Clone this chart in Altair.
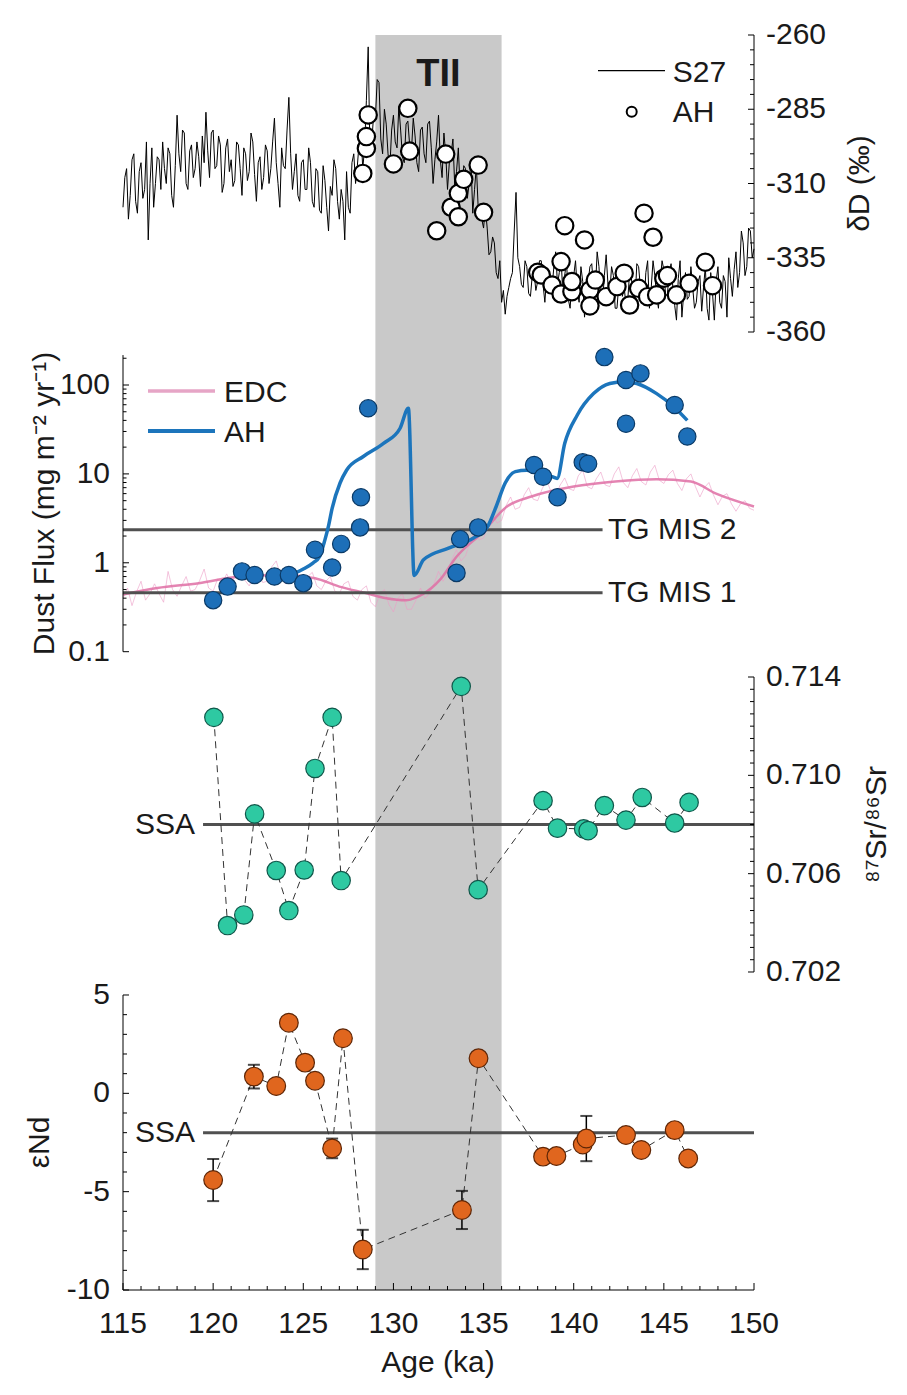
import altair as alt
import pandas as pd

FONT = "Liberation Sans"
FS = 30
W = 631
H1, H2, H3, H4 = 308, 321, 319, 307

# ---------------- data ----------------
# S27 deuterium record, 0.1 ka sampling (115.0 ... 150.0)
s27_dd = [-318, -308, -305, -322, -314, -302, -300, -316, -320, -306,
          -303, -315, -312, -296, -329, -310, -298, -318, -310, -301,
          -302, -312, -296, -305, -310, -298, -300, -314, -318, -304,
          -287, -300, -306, -292, -293, -310, -312, -299, -297, -308,
          -305, -296, -301, -311, -294, -303, -286, -299, -308, -293,
          -292, -305, -304, -294, -297, -313, -310, -298, -295, -306,
          -302, -311, -309, -296, -297, -305, -314, -298, -300, -309,
          -306, -293, -296, -307, -316, -303, -301, -312, -308, -297,
          -299, -310, -305, -296, -288, -303, -310, -318, -298, -304,
          -305, -292, -281, -300, -312, -306, -300, -314, -316, -303,
          -302, -312, -312, -298, -303, -316, -318, -305, -306, -319,
          -320, -304, -309, -318, -326, -311, -314, -302, -305, -316,
          -322, -312, -316, -329, -306, -318, -320, -303, -300, -310,
          -304, -296, -293, -305, -298, -282, -264, -300, -296, -287,
          -288, -275, -276, -295, -300, -285, -290, -300, -305, -292,
          -287, -296, -298, -284, -292, -301, -303, -290, -289, -297,
          -299, -288, -294, -303, -306, -292, -291, -300, -303, -290,
          -289, -298, -310, -302, -296, -287, -302, -308, -293, -300,
          -312, -303, -300, -295, -311, -306, -298, -312, -316, -304,
          -305, -315, -310, -302, -320, -312, -304, -318, -317, -322,
          -325, -318, -325, -334, -333, -328, -330, -340, -342, -336,
          -350, -346, -354, -348, -345, -342, -340, -326, -313, -335,
          -338, -344, -345, -336, -338, -347, -348, -341, -340, -346,
          -343, -336, -336, -344, -350, -341, -339, -346, -345, -338,
          -333, -344, -340, -335, -348, -341, -336, -349, -352, -343,
          -341, -336, -346, -350, -338, -343, -355, -347, -343, -338,
          -337, -345, -346, -333, -338, -349, -350, -341, -334, -344,
          -347, -338, -341, -352, -352, -344, -339, -348, -345, -351,
          -349, -340, -342, -347, -350, -337, -338, -345, -346, -351,
          -340, -336, -352, -345, -336, -341, -348, -352, -343, -336,
          -339, -348, -347, -340, -337, -345, -351, -356, -342, -336,
          -355, -347, -340, -349, -348, -338, -345, -352, -350, -343,
          -341, -353, -345, -338, -352, -356, -340, -347, -356, -343,
          -338, -350, -352, -341, -343, -355, -335, -342, -348, -339,
          -333, -345, -340, -326, -330, -341, -338, -325, -326, -335,
          -332]
s27_age = [round(115 + 0.1 * i, 1) for i in range(len(s27_dd))]

ah_dd_age = [128.3, 128.5, 128.5, 128.6, 130.0, 130.8, 130.9, 132.4, 132.9, 133.2,
             133.6, 133.6, 133.9, 134.7, 135.0, 138.0, 138.2, 138.8, 139.3, 139.3,
             139.5, 139.9, 139.9, 140.6, 140.9, 140.9, 141.2, 141.8, 142.4, 142.8,
             143.1, 143.6, 143.9, 144.1, 144.4, 144.6, 145.0, 145.2, 145.7, 146.4,
             147.3, 147.7]
ah_dd_val = [-306.6, -298.2, -294.2, -286.9, -303.4, -284.7, -299.1, -325.9, -300.1, -318.0,
             -313.3, -321.2, -308.6, -303.8, -319.7, -339.9, -340.8, -344.2, -347.2, -336.3,
             -324.2, -346.4, -343.0, -329.0, -345.9, -351.2, -342.5, -348.1, -344.7, -340.2,
             -350.9, -345.3, -320.0, -348.1, -328.1, -347.5, -341.9, -341.0, -347.5, -343.6,
             -336.5, -344.4]

# EDC dust flux: raw record (0.25 ka sampling) and smoothed curve
edc_raw_val = [0.40, 0.52, 0.33, 0.47, 0.62, 0.38, 0.45, 0.58,
               0.45, 0.36, 0.80, 0.50, 0.42, 0.55, 0.70, 0.48,
               0.50, 0.63, 0.85, 0.52, 0.48, 0.66, 0.58, 0.75,
               0.60, 0.72, 0.95, 0.64, 0.55, 0.70, 0.82, 0.60,
               0.62, 0.90, 1.05, 0.70, 0.58, 0.76, 0.85, 0.62,
               0.60, 0.70, 0.78, 0.55, 0.50, 0.62, 0.70, 0.48,
               0.45, 0.58, 0.62, 0.42, 0.38, 0.50, 0.55, 0.36,
               0.32, 0.45, 0.50, 0.34, 0.28, 0.40, 0.45, 0.30,
               0.30, 0.38, 0.52, 0.40, 0.45, 0.58, 0.80, 0.62,
               0.75, 1.10, 1.40, 1.05, 1.20, 1.70, 2.30, 1.80,
               1.90, 2.60, 3.50, 2.80, 3.00, 4.40, 5.50, 4.00,
               4.20, 5.80, 7.00, 5.20, 5.00, 6.80, 8.50, 6.20,
               5.80, 7.50, 9.00, 6.80, 6.50, 9.50, 11.0, 7.20,
               6.80, 8.80, 10.5, 7.50, 7.20, 10.0, 12.0, 8.00,
               7.00, 9.50, 11.5, 8.20, 7.50, 10.5, 12.5, 8.50,
               7.80, 9.80, 11.0, 7.80, 6.50, 8.80, 10.0, 7.20,
               5.50, 7.00, 8.00, 5.80, 4.50, 5.60, 6.00, 4.60,
               3.80, 4.60, 5.00, 4.10, 3.90]
edc_raw_age = [115 + 0.25 * i for i in range(len(edc_raw_val))]
edc_s_age = [115.0, 116.9, 119.2, 121.5, 123.8, 125.65, 127.0, 128.4, 129.6, 130.7, 131.6,
             132.6, 133.5, 134.9, 136.3, 137.7, 140.0, 142.3, 144.6, 146.5, 147.9, 150.0]
edc_s_val = [0.44, 0.52, 0.59, 0.70, 0.73, 0.67, 0.54, 0.46, 0.40, 0.38, 0.44,
             0.65, 1.17, 2.16, 4.3, 5.6, 7.2, 8.2, 8.7, 8.2, 6.0, 4.3]

# AH dust flux samples and model curve
ah_flux_age = [120.0, 120.8, 121.6, 122.3, 123.4, 124.2, 125.0, 125.65, 126.6, 127.1,
               128.15, 128.2, 128.6, 133.5, 133.7, 134.7, 137.8, 138.3, 139.1, 140.5,
               140.8, 141.7, 142.9, 142.9, 143.7, 145.6, 146.3]
ah_flux_val = [0.38, 0.54, 0.80, 0.73, 0.70, 0.73, 0.59, 1.40, 0.885, 1.63,
               2.5, 5.47, 54.7, 0.77, 1.85, 2.5, 12.6, 9.3, 5.47, 13.5,
               13.0, 206, 114, 36.6, 135, 59.6, 26.3]
ah_model_age = [124.5, 125.0, 125.55, 125.9, 126.2, 126.4, 126.6, 127.04, 127.4, 128.33,
                129.45, 130.37, 130.83, 131.15, 131.67, 133.06, 134.44, 135.2, 135.7, 136.2,
                136.76, 137.4, 138.15, 138.8, 139.08, 139.5, 140.2, 141.1, 142.0, 142.8,
                143.5, 144.6, 145.55, 146.3]
ah_model_val = [0.76, 0.85, 1.0, 1.17, 1.81, 2.6, 4.1, 7.9, 11, 15.7,
                22, 32.6, 54.7, 0.72, 1.08, 1.46, 1.9, 2.5, 4.3, 7.9,
                10.6, 11, 10, 9.3, 8.9, 22, 46, 80, 104, 109,
                104, 80, 57, 40]

tg_labels = ["TG MIS 2", "TG MIS 1"]
tg_values = [2.35, 0.46]

sr_age = [120.04, 120.8, 121.7, 122.3, 123.5, 124.2, 125.05, 125.65, 126.6, 127.1,
          133.76, 134.7, 138.3, 139.1, 140.55, 140.8, 141.7, 142.9, 143.8, 145.6, 146.4]
sr_val = [0.71236, 0.70389, 0.70432, 0.70843, 0.70613, 0.70450, 0.70615, 0.71028, 0.71236, 0.70572,
          0.71362, 0.70535, 0.70897, 0.70785, 0.70782, 0.70775, 0.70877, 0.70818, 0.70910, 0.70806, 0.70890]
sr_ssa = 0.708

nd_age = [120.0, 122.26, 123.5, 124.2, 125.1, 125.65, 126.6, 127.2, 128.3, 133.8,
          134.72, 138.3, 139.04, 140.5, 140.7, 142.9, 143.75, 145.6, 146.35]
nd_val = [-4.41, 0.85, 0.37, 3.59, 1.56, 0.64, -2.80, 2.80, -7.94, -5.93,
          1.78, -3.22, -3.19, -2.60, -2.30, -2.12, -2.88, -1.87, -3.31]
nd_err = [1.07, 0.60, 0, 0, 0, 0, 0.50, 0, 1.00, 0.97,
          0, 0, 0, 0, 1.15, 0, 0, 0, 0]
nd_ssa = -2.0

termination = [129.0, 136.0]

# axis ticks and labels
x_major = [115, 120, 125, 130, 135, 140, 145, 150]
x_labels = ["115", "120", "125", "130", "135", "140", "145", "150"]
x_minor = [v for v in range(115, 151) if v % 5 != 0]
dd_major = [-260, -285, -310, -335, -360]
dd_labels = ["-260", "-285", "-310", "-335", "-360"]
dd_minor = [v for v in range(-360, -259, 5) if v not in dd_major]
flux_major = [0.1, 1, 10, 100]
flux_labels = ["0.1", "1", "10", "100"]
flux_minor = [0.2, 0.3, 0.4, 0.5, 0.6, 0.7, 0.8, 0.9, 2, 3, 4, 5, 6, 7, 8, 9,
              20, 30, 40, 50, 60, 70, 80, 90, 200]
sr_major = [0.702, 0.706, 0.710, 0.714]
sr_labels = ["0.702", "0.706", "0.710", "0.714"]
sr_minor = [round(0.702 + 0.0005 * i, 4) for i in range(25)]
sr_minor = [v for v in sr_minor if v not in sr_major]
nd_major = [-10, -5, 0, 5]
nd_labels = ["-10", "-5", "0", "5"]
nd_minor = [v for v in range(-10, 6) if v % 5 != 0]

# ---------------- helpers ----------------
XS = alt.Scale(domain=[115, 150], nice=False, zero=False)
one = pd.DataFrame({"a": [0]})
INK = "#1a1a1a"


def X(field):
    return alt.X(field, type="quantitative", scale=XS, axis=None)


def band():
    df = pd.DataFrame({"a": [termination[0]], "b": [termination[1]]})
    return alt.Chart(df).mark_rect(color="#c9c9c9").encode(x=X("a"), x2="b:Q")


def yticks(values, ys, side, length):
    df = pd.DataFrame({"v": values})
    if side == "left":
        xe, x2e = alt.value(0), alt.value(length)
    else:
        xe, x2e = alt.value(W - length), alt.value(W)
    return alt.Chart(df).mark_rule(color="black", strokeWidth=1).encode(
        y=alt.Y("v:Q", scale=ys, axis=None), x=xe, x2=x2e)


def yline(lo, hi, ys, side):
    df = pd.DataFrame({"a": [lo], "b": [hi]})
    return alt.Chart(df).mark_rule(color="black", strokeWidth=1).encode(
        x=alt.value(0 if side == "left" else W),
        y=alt.Y("a:Q", scale=ys, axis=None), y2="b:Q")


def ylabels(values, texts, ys, side):
    df = pd.DataFrame({"v": values, "t": texts})
    left = side == "left"
    return alt.Chart(df).mark_text(fontSize=FS, align="right" if left else "left",
                                   baseline="middle", font=FONT, color=INK).encode(
        y=alt.Y("v:Q", scale=ys, axis=None),
        x=alt.value(-13 if left else W + 12), text="t:N")


def ytitle(text, x, y):
    return alt.Chart(one).mark_text(text=text, fontSize=FS, angle=270, align="center",
                                    baseline="middle", font=FONT, color=INK).encode(
        x=alt.value(x), y=alt.value(y))


def label(text, x, y, size=FS, weight="normal", align="left"):
    return alt.Chart(one).mark_text(text=text, fontSize=size, fontWeight=weight,
                                    align=align, baseline="middle", font=FONT,
                                    color=INK).encode(x=alt.value(x), y=alt.value(y))


# ---------------- panel 1 : dD ----------------
ys1 = alt.Scale(domain=[-363.70, -260], nice=False, zero=False)
p1_line = alt.Chart(pd.DataFrame({"age": s27_age, "v": s27_dd})).mark_line(
    color="black", strokeWidth=1).encode(x=X("age"), y=alt.Y("v:Q", scale=ys1, axis=None))
p1_pts = alt.Chart(pd.DataFrame({"age": ah_dd_age, "v": ah_dd_val})).mark_point(
    shape="circle", filled=True, fill="white", stroke="black", strokeWidth=2.2, size=300, opacity=1
).encode(x=X("age"), y=alt.Y("v:Q", scale=ys1, axis=None))
p1_extra = [
    alt.Chart(one).mark_rule(color="black", strokeWidth=1.2).encode(
        x=alt.value(475), x2=alt.value(542), y=alt.value(35.7)),
    alt.Chart(one).mark_point(shape="circle", filled=True, fill="white", stroke="black",
                              strokeWidth=2, size=100, opacity=1).encode(
        x=alt.value(508.7), y=alt.value(76.7)),
    label("S27", 549.7, 38),
    label("AH", 549.7, 78),
    alt.Chart(pd.DataFrame({"a": [132.5]})).mark_text(
        text="TII", fontSize=38, fontWeight="bold", align="center",
        baseline="middle", font=FONT, color=INK).encode(x=X("a"), y=alt.value(40)),
    yticks(dd_major, ys1, "right", 6), yticks(dd_minor, ys1, "right", 4),
    yline(-360, -260, ys1, "right"),
    ylabels(dd_major, dd_labels, ys1, "right"),
    ytitle("δD (‰)", W + 106, 148.5),
]
panel1 = alt.layer(band(), p1_line, p1_pts, *p1_extra).properties(width=W, height=H1)

# ---------------- panel 2 : dust flux ----------------
ys2 = alt.Scale(type="log", domain=[0.0727, 296.8], nice=False)
p2_raw = alt.Chart(pd.DataFrame({"age": edc_raw_age, "v": edc_raw_val})).mark_line(
    color="#ec9cc6", strokeWidth=1, opacity=0.6).encode(
    x=X("age"), y=alt.Y("v:Q", scale=ys2, axis=None))
p2_smooth = alt.Chart(pd.DataFrame({"age": edc_s_age, "v": edc_s_val})).mark_line(
    color="#df6fa4", strokeWidth=2.5, opacity=0.85, interpolate="monotone").encode(
    x=X("age"), y=alt.Y("v:Q", scale=ys2, axis=None))
tg_df = pd.DataFrame({"lab": tg_labels, "v": tg_values, "x0": [115.0, 115.0],
                      "x1": [141.6, 141.6], "xl": [141.9, 141.9]})
p2_tg = alt.Chart(tg_df).mark_rule(color="#505050", strokeWidth=3).encode(
    x=X("x0"), x2="x1:Q", y=alt.Y("v:Q", scale=ys2, axis=None))
p2_tgl = alt.Chart(tg_df).mark_text(fontSize=FS, align="left", baseline="middle", font=FONT,
                                    color=INK).encode(
    x=X("xl"), y=alt.Y("v:Q", scale=ys2, axis=None), text="lab:N")
p2_model = alt.Chart(pd.DataFrame({"age": ah_model_age, "v": ah_model_val})).mark_line(
    color="#1c75bc", strokeWidth=3.5, interpolate="monotone").encode(
    x=X("age"), y=alt.Y("v:Q", scale=ys2, axis=None))
p2_pts = alt.Chart(pd.DataFrame({"age": ah_flux_age, "v": ah_flux_val})).mark_point(
    shape="circle", filled=True, fill="#1d6fb8", stroke="#0b3a66", strokeWidth=1.2,
    size=300, opacity=1).encode(x=X("age"), y=alt.Y("v:Q", scale=ys2, axis=None))
p2_extra = [
    alt.Chart(one).mark_rule(color="#e08fb8", strokeWidth=3.5, opacity=0.8).encode(
        x=alt.value(25), x2=alt.value(92), y=alt.value(48)),
    label("EDC", 101, 50),
    alt.Chart(one).mark_rule(color="#1c75bc", strokeWidth=4).encode(
        x=alt.value(25), x2=alt.value(92), y=alt.value(88)),
    label("AH", 101, 90),
    yticks(flux_major, ys2, "left", 6), yticks(flux_minor, ys2, "left", 3.5),
    yline(0.1, 217, ys2, "left"),
    ylabels(flux_major, flux_labels, ys2, "left"),
    ytitle("Dust Flux (mg m⁻² yr⁻¹)", -78, 160.5),
]
panel2 = alt.layer(band(), p2_raw, p2_smooth, p2_tg, p2_tgl, p2_model, p2_pts,
                   *p2_extra).properties(width=W, height=H2)

# ---------------- panel 3 : Sr ----------------
ys3 = alt.Scale(domain=[0.7015525, 0.714529], nice=False, zero=False)
ssa_df3 = pd.DataFrame({"x0": [119.44], "x1": [150.0], "xl": [119.0], "v": [sr_ssa]})
p3_ssa = alt.Chart(ssa_df3).mark_rule(color="#505050", strokeWidth=3).encode(
    x=X("x0"), x2="x1:Q", y=alt.Y("v:Q", scale=ys3, axis=None))
p3_ssal = alt.Chart(ssa_df3).mark_text(text="SSA", fontSize=FS, align="right", baseline="middle",
                                       font=FONT, color=INK).encode(
    x=X("xl"), y=alt.Y("v:Q", scale=ys3, axis=None))
sr_df = pd.DataFrame({"age": sr_age, "v": sr_val})
p3_line = alt.Chart(sr_df).mark_line(color="#333333", strokeWidth=1, strokeDash=[7, 5]).encode(
    x=X("age"), y=alt.Y("v:Q", scale=ys3, axis=None))
p3_pts = alt.Chart(sr_df).mark_point(shape="circle", filled=True, fill="#2ec9a2", stroke="#10574a",
                                     strokeWidth=1.2, size=340, opacity=1).encode(
    x=X("age"), y=alt.Y("v:Q", scale=ys3, axis=None))
p3_extra = [
    yticks(sr_major, ys3, "right", 6), yticks(sr_minor, ys3, "right", 4),
    yline(0.702, 0.714, ys3, "right"),
    ylabels(sr_major, sr_labels, ys3, "right"),
    ytitle("⁸⁷Sr/⁸⁶Sr", W + 123, 160.5),
]
panel3 = alt.layer(band(), p3_ssa, p3_ssal, p3_line, p3_pts, *p3_extra).properties(
    width=W, height=H3)

# ---------------- panel 4 : Nd ----------------
ys4 = alt.Scale(domain=[-10, 5.610], nice=False, zero=False)
ssa_df4 = pd.DataFrame({"x0": [119.44], "x1": [150.0], "xl": [119.0], "v": [nd_ssa]})
p4_ssa = alt.Chart(ssa_df4).mark_rule(color="#505050", strokeWidth=3).encode(
    x=X("x0"), x2="x1:Q", y=alt.Y("v:Q", scale=ys4, axis=None))
p4_ssal = alt.Chart(ssa_df4).mark_text(text="SSA", fontSize=FS, align="right", baseline="middle",
                                       font=FONT, color=INK).encode(
    x=X("xl"), y=alt.Y("v:Q", scale=ys4, axis=None))
nd_df = pd.DataFrame({"age": nd_age, "v": nd_val, "e": nd_err})
nd_df["lo"] = nd_df["v"] - nd_df["e"]
nd_df["hi"] = nd_df["v"] + nd_df["e"]
err_df = nd_df[nd_df["e"] > 0]
p4_line = alt.Chart(nd_df).mark_line(color="#333333", strokeWidth=1, strokeDash=[7, 5]).encode(
    x=X("age"), y=alt.Y("v:Q", scale=ys4, axis=None))
p4_err = alt.Chart(err_df).mark_rule(color="black", strokeWidth=1.5).encode(
    x=X("age"), y=alt.Y("lo:Q", scale=ys4, axis=None), y2="hi:Q")
p4_cap_lo = alt.Chart(err_df).mark_tick(color="black", thickness=2, size=12, orient="horizontal").encode(
    x=X("age"), y=alt.Y("lo:Q", scale=ys4, axis=None))
p4_cap_hi = alt.Chart(err_df).mark_tick(color="black", thickness=2, size=12, orient="horizontal").encode(
    x=X("age"), y=alt.Y("hi:Q", scale=ys4, axis=None))
p4_pts = alt.Chart(nd_df).mark_point(shape="circle", filled=True, fill="#e0661e", stroke="#5e2606",
                                     strokeWidth=1.2, size=350, opacity=1).encode(
    x=X("age"), y=alt.Y("v:Q", scale=ys4, axis=None))
xdf = pd.DataFrame({"v": x_major, "t": x_labels})
p4_extra = [
    yticks(nd_major, ys4, "left", 6), yticks(nd_minor, ys4, "left", 4),
    yline(-10, 5, ys4, "left"),
    ylabels(nd_major, nd_labels, ys4, "left"),
    ytitle("εNd", -83, 159.5),
    alt.Chart(pd.DataFrame({"a": [115.0], "b": [150.0]})).mark_rule(
        color="black", strokeWidth=1).encode(x=X("a"), x2="b:Q", y=alt.value(H4)),
    alt.Chart(xdf).mark_rule(color="black", strokeWidth=1).encode(
        x=X("v"), y=alt.value(H4), y2=alt.value(H4 - 7)),
    alt.Chart(pd.DataFrame({"v": x_minor})).mark_rule(color="black", strokeWidth=1).encode(
        x=X("v"), y=alt.value(H4), y2=alt.value(H4 - 4)),
    alt.Chart(xdf).mark_text(fontSize=FS, align="center", baseline="middle", font=FONT,
                             color=INK).encode(x=X("v"), y=alt.value(H4 + 34), text="t:N"),
    alt.Chart(pd.DataFrame({"a": [132.47]})).mark_text(
        text="Age (ka)", fontSize=FS, align="center", baseline="middle", font=FONT,
        color=INK).encode(x=X("a"), y=alt.value(H4 + 73)),
]
panel4 = alt.layer(band(), p4_ssa, p4_ssal, p4_line, p4_err, p4_cap_lo, p4_cap_hi, p4_pts,
                   *p4_extra).properties(width=W, height=H4)

chart = alt.vconcat(panel1, panel2, panel3, panel4, spacing=0, bounds="flush").properties(
    padding={"left": 25, "top": 20, "right": 5, "bottom": 5}, background="white"
).configure_view(stroke=None).configure_text(font=FONT)

chart.save("out.html", embed_options={"renderer": "svg", "actions": False})
